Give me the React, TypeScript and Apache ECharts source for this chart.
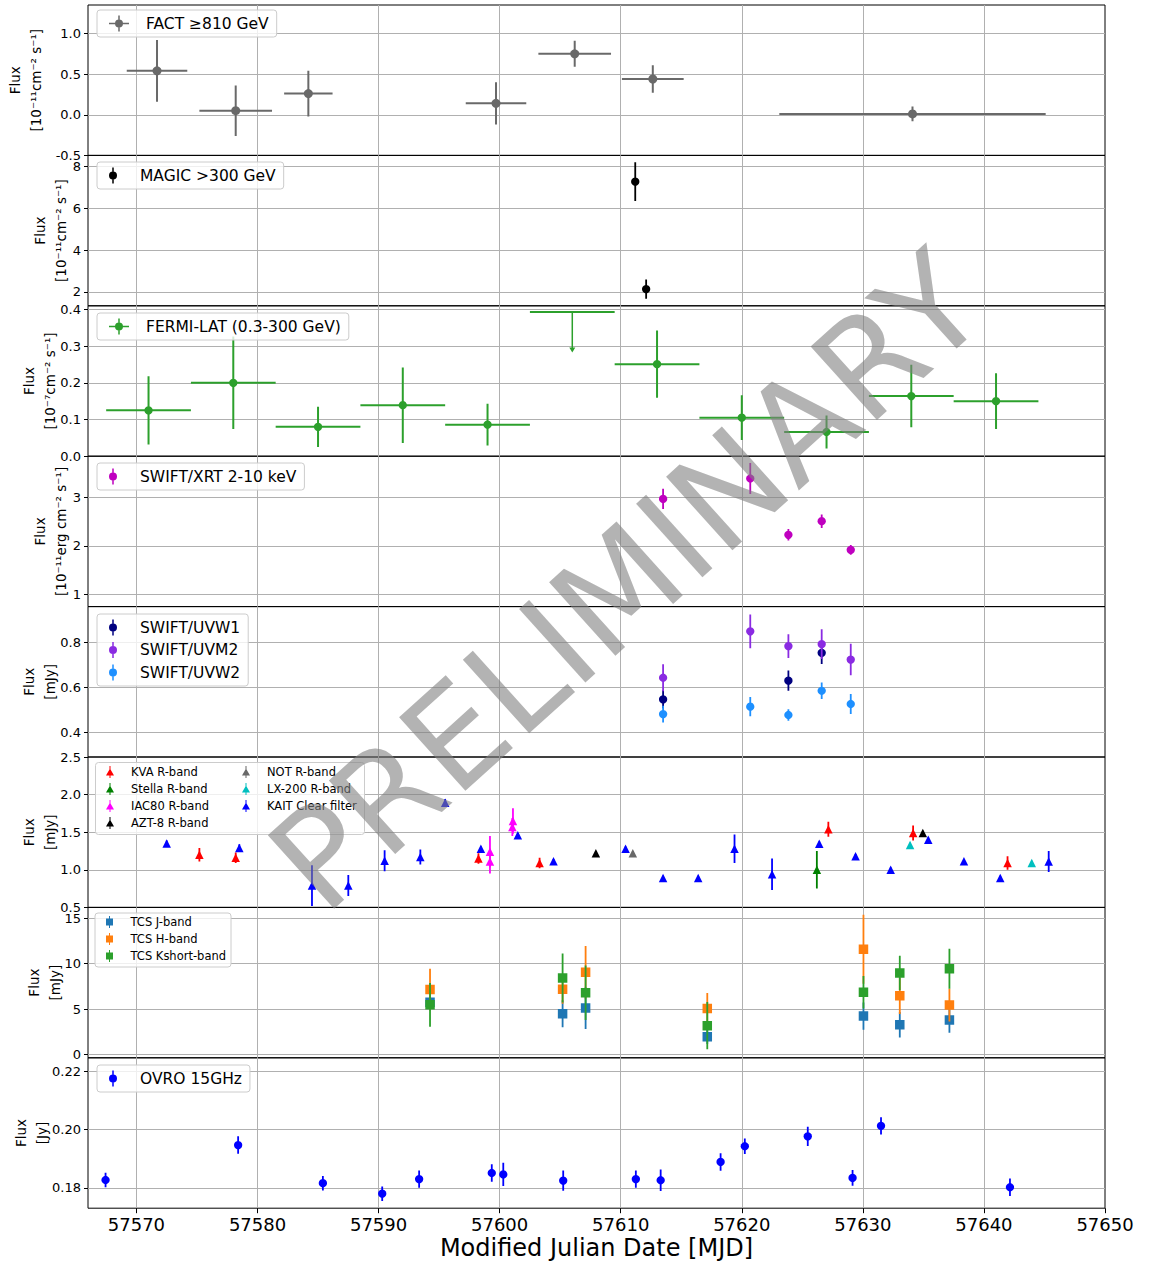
import React, { useEffect, useRef } from 'react';
import * as echarts from 'echarts';

const FONT = 'DejaVu Sans';

// ---------------- data ----------------
const factMjd = [57571.7, 57578.2, 57584.2, 57599.7, 57606.2, 57612.65, 57634.1];
const factHalfWidth = [2.5, 3.0, 2.0, 2.5, 3.0, 2.55, 11.0];
const factFlux = [0.54, 0.05, 0.26, 0.14, 0.75, 0.44, 0.01];
const factErr = [0.38, 0.31, 0.28, 0.26, 0.16, 0.17, 0.09];

const magicMjd = [57611.2, 57612.1];
const magicFlux = [7.28, 2.13];
const magicErr = [0.93, 0.46];

const fermiMjd = [57571, 57578, 57585, 57592, 57599, 57613, 57620, 57627, 57634, 57641];
const fermiHalfWidth = [3.5, 3.5, 3.5, 3.5, 3.5, 3.5, 3.5, 3.5, 3.5, 3.5];
const fermiFlux = [0.125, 0.2, 0.08, 0.139, 0.086, 0.251, 0.105, 0.066, 0.164, 0.15];
const fermiErr = [0.093, 0.126, 0.055, 0.103, 0.057, 0.092, 0.061, 0.045, 0.085, 0.076];
const fermiUlMjd = [57606];
const fermiUlHalfWidth = [3.5];
const fermiUlFlux = [0.393];
const fermiUlArrow = [0.11];

const xrtMjd = [57613.5, 57620.7, 57623.85, 57626.6, 57629.0];
const xrtFlux = [2.97, 3.39, 2.23, 2.51, 1.92];
const xrtErr = [0.21, 0.32, 0.12, 0.14, 0.1];

const uvw1Mjd = [57613.5, 57623.85, 57626.6];
const uvw1Flux = [0.547, 0.63, 0.754];
const uvw1Err = [0.04, 0.045, 0.05];
const uvm2Mjd = [57613.5, 57620.7, 57623.85, 57626.6, 57629.0];
const uvm2Flux = [0.643, 0.85, 0.784, 0.793, 0.724];
const uvm2Err = [0.06, 0.075, 0.053, 0.066, 0.07];
const uvw2Mjd = [57613.5, 57620.7, 57623.85, 57626.6, 57629.0];
const uvw2Flux = [0.481, 0.514, 0.477, 0.585, 0.526];
const uvw2Err = [0.037, 0.043, 0.026, 0.037, 0.045];

const kvaMjd = [57575.2, 57578.2, 57598.25, 57603.3, 57627.15, 57634.15, 57641.95];
const kvaFlux = [1.2, 1.16, 1.15, 1.09, 1.54, 1.49, 1.09];
const kvaErr = [0.09, 0.07, 0.07, 0.07, 0.1, 0.1, 0.09];
const stellaMjd = [57626.2];
const stellaFlux = [1.0];
const stellaErr = [0.25];
const iacMjd = [57599.2, 57599.2, 57601.1, 57601.05];
const iacFlux = [1.24, 1.11, 1.65, 1.57];
const iacErr = [0.21, 0.16, 0.17, 0.12];
const aztMjd = [57607.95, 57634.95];
const aztFlux = [1.22, 1.49];
const aztErr = [0.03, 0.03];
const notMjd = [57611.0];
const notFlux = [1.22];
const notErr = [0.03];
const lxMjd = [57633.9, 57643.95];
const lxFlux = [1.33, 1.09];
const lxErr = [0.03, 0.03];
const kaitMjd = [57572.5, 57578.5, 57584.5, 57587.5, 57590.5, 57593.45, 57595.5, 57598.45, 57601.5, 57604.45, 57610.4,
  57613.5, 57616.4, 57619.4, 57622.5, 57626.4, 57629.4, 57632.3, 57635.4, 57638.35, 57641.35, 57645.35];
const kaitFlux = [1.35, 1.29, 0.79, 0.79, 1.12, 1.17, 1.89, 1.28, 1.46, 1.115, 1.28,
  0.89, 0.89, 1.28, 0.94, 1.345, 1.18, 1.0, 1.4, 1.115, 0.89, 1.11];
const kaitErr = [0.04, 0.05, 0.27, 0.14, 0.14, 0.1, 0.05, 0.03, 0.03, 0.03, 0.03,
  0.03, 0.03, 0.19, 0.21, 0.03, 0.03, 0.03, 0.03, 0.03, 0.03, 0.14];

const tcsMjd = [57594.25, 57605.2, 57607.1, 57617.15, 57630.05, 57633.05, 57637.15];
const tcsJFlux = [5.77, 4.49, 5.11, 1.97, 4.23, 3.28, 3.8];
const tcsJErr = [0.6, 1.5, 2.3, 0.8, 1.5, 1.4, 1.4];
const tcsHFlux = [7.15, 7.19, 9.05, 5.07, 11.6, 6.46, 5.44];
const tcsHErr = [2.3, 1.6, 2.9, 1.7, 3.8, 2.0, 1.8];
const tcsKFlux = [5.47, 8.43, 6.79, 3.18, 6.86, 8.98, 9.45];
const tcsKErr = [2.4, 2.7, 3.0, 2.6, 1.8, 1.9, 2.2];

const ovroMjd = [57567.45, 57578.4, 57585.4, 57590.3, 57593.35, 57599.35, 57600.3, 57605.25, 57611.25, 57613.3,
  57618.25, 57620.25, 57625.45, 57629.15, 57631.5, 57642.15];
const ovroFlux = [0.1827, 0.1947, 0.1816, 0.178, 0.183, 0.1851, 0.1846, 0.1825, 0.183, 0.1826,
  0.1889, 0.1943, 0.1977, 0.1834, 0.2013, 0.1802];
const ovroErr = [0.0025, 0.003, 0.0025, 0.0025, 0.003, 0.003, 0.004, 0.0035, 0.003, 0.0037,
  0.003, 0.0027, 0.0033, 0.0027, 0.003, 0.003];

// axes
const xMin = 57566;
const xMax = 57650;
const xStep = 10;
const yMin = [-0.5, 1.33, 0, 0.75, 0.29, 0.5, -0.36, 0.173];
const yMax = [1.35, 8.54, 0.41, 3.85, 0.96, 2.5, 16.2, 0.2247];
const yStep = [0.5, 2, 0.1, 1, 0.2, 0.5, 5, 0.02];
const yDecimals = [1, 0, 1, 0, 1, 1, 0, 2];
const yShowMin = [true, false, true, false, false, true, false, false];
const yShowMax = [false, false, false, false, false, true, false, false];
const yNames = [
  'Flux\n[10⁻¹¹cm⁻² s⁻¹]',
  'Flux\n[10⁻¹¹cm⁻² s⁻¹]',
  'Flux\n[10⁻⁷cm⁻² s⁻¹]',
  'Flux\n[10⁻¹¹erg cm⁻² s⁻¹]',
  'Flux\n[mJy]',
  'Flux\n[mJy]',
  'Flux\n[mJy]',
  'Flux\n[Jy]',
];
const xTitle = 'Modified Julian Date [MJD]';

// ---------------- layout / style ----------------
const PANEL_TOP = 5;
const PANEL_H = 150.4;
const yNameGap = [41.5, 16.5, 27.5, 16.5, 27.5, 27.5, 22.5, 35.5];

const ICON_CROSS = 'path://M0,7.25h20v1.5h-20Z M9.25,0h1.5v16h-1.5Z M6,8a4,4 0 1,1 8,0a4,4 0 1,1 -8,0Z';
const ICON_CIRCLE = 'path://M3.25,0h1.5v16h-1.5Z M0,8a4,4 0 1,1 8,0a4,4 0 1,1 -8,0Z';
const ICON_TRI = 'path://M3.5,0h1v12h-1Z M4,2.5L8,9.5L0,9.5Z';
const ICON_SQ = 'path://M3.5,0h1v12h-1Z M0.5,2.5h7v7h-7Z';

type Marker = 'circle' | 'triangle' | 'square';

function errorSeries(
  name: string,
  panel: number,
  xs: number[],
  ys: number[],
  xerr: number[] | null,
  yerr: number[] | null,
  color: string,
  marker: Marker,
  size: number,
  lw: number
) {
  const data = xs.map((x, i) => [x, ys[i], xerr ? xerr[i] : 0, yerr ? yerr[i] : 0]);
  return {
    type: 'custom',
    name,
    xAxisIndex: panel,
    yAxisIndex: panel,
    dimensions: ['x', 'y', 'xe', 'ye'],
    encode: { x: 0, y: 1 },
    data,
    clip: true,
    itemStyle: { color },
    renderItem: (_params: any, api: any) => {
      const x = api.value(0);
      const y = api.value(1);
      const xe = api.value(2);
      const ye = api.value(3);
      const c = api.coord([x, y]);
      const children: any[] = [];
      if (xe > 0) {
        const a = api.coord([x - xe, y]);
        const b = api.coord([x + xe, y]);
        children.push({ type: 'line', shape: { x1: a[0], y1: a[1], x2: b[0], y2: b[1] }, style: { stroke: color, lineWidth: lw } });
      }
      if (ye > 0) {
        const a = api.coord([x, y - ye]);
        const b = api.coord([x, y + ye]);
        children.push({ type: 'line', shape: { x1: a[0], y1: a[1], x2: b[0], y2: b[1] }, style: { stroke: color, lineWidth: lw } });
      }
      const h = size / 2;
      if (marker === 'circle') {
        children.push({ type: 'circle', shape: { cx: c[0], cy: c[1], r: h }, style: { fill: color } });
      } else if (marker === 'triangle') {
        children.push({
          type: 'polygon',
          shape: { points: [[c[0], c[1] - h], [c[0] + h, c[1] + h], [c[0] - h, c[1] + h]] },
          style: { fill: color },
        });
      } else {
        children.push({ type: 'rect', shape: { x: c[0] - h, y: c[1] - h, width: size, height: size }, style: { fill: color } });
      }
      return { type: 'group', children };
    },
  };
}

function upperLimitSeries(name: string, panel: number, color: string) {
  const data = fermiUlMjd.map((x, i) => [x, fermiUlFlux[i], fermiUlHalfWidth[i], fermiUlArrow[i]]);
  return {
    type: 'custom',
    name,
    xAxisIndex: panel,
    yAxisIndex: panel,
    dimensions: ['x', 'y', 'xe', 'arrow'],
    encode: { x: 0, y: 1 },
    data,
    clip: true,
    itemStyle: { color },
    renderItem: (_params: any, api: any) => {
      const x = api.value(0);
      const y = api.value(1);
      const xe = api.value(2);
      const ar = api.value(3);
      const a = api.coord([x - xe, y]);
      const b = api.coord([x + xe, y]);
      const c = api.coord([x, y]);
      const d = api.coord([x, y - ar]);
      return {
        type: 'group',
        children: [
          { type: 'line', shape: { x1: a[0], y1: a[1], x2: b[0], y2: b[1] }, style: { stroke: color, lineWidth: 2 } },
          { type: 'line', shape: { x1: c[0], y1: c[1], x2: d[0], y2: d[1] - 3 }, style: { stroke: color, lineWidth: 1.5 } },
          { type: 'polygon', shape: { points: [[d[0] - 3, d[1] - 5], [d[0] + 3, d[1] - 5], [d[0], d[1]]] }, style: { fill: color } },
        ],
      };
    },
  };
}

function mainLegend(names: string[], icons: string[], top: number) {
  return {
    orient: 'vertical',
    left: 97,
    top,
    data: names.map((n, i) => ({ name: n, icon: icons[i] })),
    padding: [4.5, 8, 4.5, 12],
    itemWidth: 44,
    itemHeight: 16,
    itemGap: 4.5,
    symbolKeepAspect: true,
    backgroundColor: 'rgba(255,255,255,0.8)',
    borderColor: '#cccccc',
    borderWidth: 1,
    borderRadius: 3,
    selectedMode: false,
    textStyle: { fontFamily: FONT, fontSize: 15.5, lineHeight: 18, color: '#000' },
  };
}

function smallLegend(names: string[], icon: string, left: number, top: number, boxed: boolean) {
  return {
    orient: 'vertical',
    left,
    top,
    data: names.map((n) => ({ name: n, icon })),
    padding: boxed ? [2, 5, 4, 11] : 0,
    itemWidth: 32,
    itemHeight: 12,
    itemGap: 3,
    symbolKeepAspect: true,
    backgroundColor: boxed ? 'rgba(255,255,255,0.8)' : 'transparent',
    borderColor: boxed ? '#cccccc' : 'transparent',
    borderWidth: boxed ? 1 : 0,
    borderRadius: 3,
    selectedMode: false,
    textStyle: { fontFamily: FONT, fontSize: 11.5, lineHeight: 14, color: '#000' },
  };
}

function buildOption() {
  const grids: any[] = [];
  const xAxes: any[] = [];
  const yAxes: any[] = [];
  for (let i = 0; i < 8; i++) {
    const last = i === 7;
    grids.push({
      left: 88,
      right: 45,
      top: PANEL_TOP + i * PANEL_H,
      height: PANEL_H,
      show: true,
      borderColor: '#000',
      borderWidth: 1,
      backgroundColor: 'transparent',
      containLabel: false,
      outerBoundsMode: 'none',
    });
    xAxes.push({
      type: 'value',
      gridIndex: i,
      min: xMin,
      max: xMax,
      minInterval: xStep,
      maxInterval: xStep,
      axisLine: { show: false },
      axisTick: { show: last, length: 5, lineStyle: { color: '#000', width: 1 } },
      axisLabel: {
        show: last,
        fontSize: 18,
        fontFamily: FONT,
        color: '#000',
        margin: 7,
        showMinLabel: false,
        showMaxLabel: true,
        formatter: (v: number) => String(Math.round(v)),
      },
      splitLine: { show: true, showMinLine: false, showMaxLine: false, lineStyle: { color: '#b0b0b0', width: 1 } },
      name: last ? xTitle : '',
      nameLocation: 'middle',
      nameGap: 28,
      nameMoveOverlap: false,
      nameTextStyle: { fontSize: 24, fontFamily: FONT, color: '#000' },
    });
    const dec = yDecimals[i];
    yAxes.push({
      type: 'value',
      gridIndex: i,
      min: yMin[i],
      max: yMax[i],
      minInterval: yStep[i],
      maxInterval: yStep[i],
      axisLine: { show: false },
      axisTick: { show: true, length: 4, lineStyle: { color: '#000', width: 1 } },
      axisLabel: {
        fontSize: 13,
        fontFamily: FONT,
        color: '#000',
        margin: 7,
        showMinLabel: yShowMin[i],
        showMaxLabel: yShowMax[i],
        formatter: (v: number) => v.toFixed(dec),
      },
      splitLine: { show: true, showMinLine: false, showMaxLine: false, lineStyle: { color: '#b0b0b0', width: 1 } },
      name: yNames[i],
      nameLocation: 'middle',
      nameRotate: 90,
      nameGap: yNameGap[i],
      nameMoveOverlap: false,
      nameTextStyle: { fontSize: 13.5, lineHeight: 21, fontFamily: FONT, color: '#000', align: 'center' },
    });
  }

  const series: any[] = [
    errorSeries('FACT ≥810 GeV', 0, factMjd, factFlux, factHalfWidth, factErr, '#696969', 'circle', 9, 2),
    errorSeries('MAGIC >300 GeV', 1, magicMjd, magicFlux, null, magicErr, '#000000', 'circle', 8.3, 1.8),
    errorSeries('FERMI-LAT (0.3-300 GeV)', 2, fermiMjd, fermiFlux, fermiHalfWidth, fermiErr, '#2ca02c', 'circle', 8.3, 2),
    upperLimitSeries('FERMI-LAT upper limit', 2, '#2ca02c'),
    errorSeries('SWIFT/XRT 2-10 keV', 3, xrtMjd, xrtFlux, null, xrtErr, '#bf00bf', 'circle', 8.3, 1.8),
    errorSeries('SWIFT/UVW1', 4, uvw1Mjd, uvw1Flux, null, uvw1Err, '#000080', 'circle', 8.3, 1.8),
    errorSeries('SWIFT/UVM2', 4, uvm2Mjd, uvm2Flux, null, uvm2Err, '#8a2be2', 'circle', 8.3, 1.8),
    errorSeries('SWIFT/UVW2', 4, uvw2Mjd, uvw2Flux, null, uvw2Err, '#1e90ff', 'circle', 8.3, 1.8),
    errorSeries('KVA R-band', 5, kvaMjd, kvaFlux, null, kvaErr, '#ff0000', 'triangle', 8.5, 1.8),
    errorSeries('Stella R-band', 5, stellaMjd, stellaFlux, null, stellaErr, '#008000', 'triangle', 8.5, 1.8),
    errorSeries('IAC80 R-band', 5, iacMjd, iacFlux, null, iacErr, '#ff00ff', 'triangle', 8.5, 1.8),
    errorSeries('AZT-8 R-band', 5, aztMjd, aztFlux, null, aztErr, '#000000', 'triangle', 8.5, 1.8),
    errorSeries('KAIT Clear filter', 5, kaitMjd, kaitFlux, null, kaitErr, '#0000ff', 'triangle', 8.5, 1.8),
    errorSeries('NOT R-band', 5, notMjd, notFlux, null, notErr, '#696969', 'triangle', 8.5, 1.8),
    errorSeries('LX-200 R-band', 5, lxMjd, lxFlux, null, lxErr, '#00bfbf', 'triangle', 8.5, 1.8),
    errorSeries('TCS J-band', 6, tcsMjd, tcsJFlux, null, tcsJErr, '#1f77b4', 'square', 9.5, 1.8),
    errorSeries('TCS H-band', 6, tcsMjd, tcsHFlux, null, tcsHErr, '#ff7f0e', 'square', 9.5, 1.8),
    errorSeries('TCS Kshort-band', 6, tcsMjd, tcsKFlux, null, tcsKErr, '#2ca02c', 'square', 9.5, 1.8),
    errorSeries('OVRO 15GHz', 7, ovroMjd, ovroFlux, null, ovroErr, '#0000ff', 'circle', 8.3, 1.8),
  ];

  const legends: any[] = [
    mainLegend(['FACT ≥810 GeV'], [ICON_CROSS], 10),
    mainLegend(['MAGIC >300 GeV'], [ICON_CIRCLE], 162),
    mainLegend(['FERMI-LAT (0.3-300 GeV)'], [ICON_CROSS], 313),
    mainLegend(['SWIFT/XRT 2-10 keV'], [ICON_CIRCLE], 463),
    mainLegend(['SWIFT/UVW1', 'SWIFT/UVM2', 'SWIFT/UVW2'], [ICON_CIRCLE, ICON_CIRCLE, ICON_CIRCLE], 614),
    smallLegend(['KVA R-band', 'Stella R-band', 'IAC80 R-band', 'AZT-8 R-band'], ICON_TRI, 106, 765, false),
    smallLegend(['NOT R-band', 'LX-200 R-band', 'KAIT Clear filter'], ICON_TRI, 242, 765, false),
    smallLegend(['TCS J-band', 'TCS H-band', 'TCS Kshort-band'], ICON_SQ, 95, 913, true),
    mainLegend(['OVRO 15GHz'], [ICON_CIRCLE], 1065),
  ];

  return {
    animation: false,
    backgroundColor: '#ffffff',
    textStyle: { fontFamily: FONT },
    grid: grids,
    xAxis: xAxes,
    yAxis: yAxes,
    legend: legends,
    series,
    graphic: [
      {
        type: 'rect',
        z: 3,
        silent: true,
        shape: { x: 95.5, y: 762.5, width: 269, height: 72, r: 3 },
        style: { fill: 'rgba(255,255,255,0.8)', stroke: '#cccccc', lineWidth: 1 },
      },
      {
        type: 'text',
        z: 100,
        silent: true,
        x: 627,
        y: 582,
        rotation: (42 * Math.PI) / 180,
        style: {
          text: 'PRELIMINARY',
          fontSize: 136,
          fontFamily: FONT,
          fill: 'rgba(128,128,128,0.6)',
          align: 'center',
          verticalAlign: 'middle',
        },
      },
    ],
  };
}

export default function App() {
  const ref = useRef<HTMLDivElement>(null);
  useEffect(() => {
    document.body.style.margin = '0';
    const chart = echarts.init(ref.current as HTMLDivElement, null, { renderer: 'svg' });
    chart.setOption(buildOption() as any);
    return () => {
      chart.dispose();
    };
  }, []);
  return (
    <div
      ref={ref}
      style={{ width: 1150, height: 1266, position: 'absolute', left: 0, top: 0, background: '#ffffff' }}
    />
  );
}
